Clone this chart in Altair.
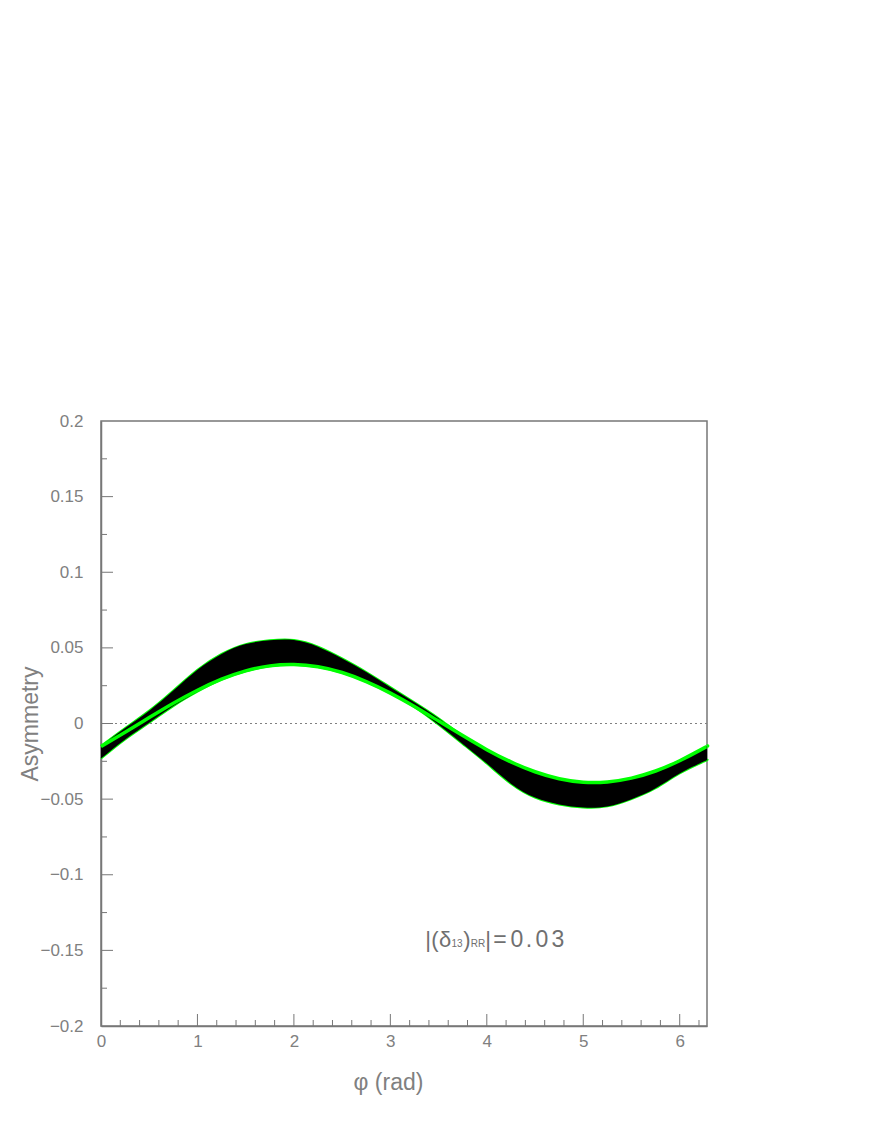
import altair as alt
import pandas as pd

# ---- data ----
phi = [0.0, 0.25, 0.5, 0.75, 1.0, 1.25, 1.5, 1.75, 2.0, 2.25, 2.5, 2.75, 3.0, 3.25, 3.5,
       3.75, 4.0, 4.25, 4.5, 4.75, 5.0, 5.25, 5.5, 5.75, 6.0, 6.25, 6.283]
upper = [-0.0148, -0.0030, 0.0085, 0.0218, 0.0355, 0.0460, 0.0525, 0.0550, 0.0552, 0.0508,
         0.0430, 0.0340, 0.0240, 0.0140, 0.0035,
         -0.0080, -0.0173, -0.0254, -0.0319, -0.0365, -0.0388, -0.0386, -0.0361, -0.0314,
         -0.0246, -0.0163, -0.0150]
lower = [-0.0232, -0.0105, 0.0005, 0.0115, 0.0210, 0.0290, 0.0345, 0.0378, 0.0388, 0.0373,
         0.0335, 0.0275, 0.0199, 0.0108, -0.0008,
         -0.0135, -0.0265, -0.0398, -0.0490, -0.0535, -0.0555, -0.0548, -0.0500, -0.0428,
         -0.0330, -0.0252, -0.0240]
green = [-0.0152, -0.0058, 0.0039, 0.0134, 0.0220, 0.0293, 0.0348, 0.0381, 0.0390, 0.0375,
         0.0337, 0.0277, 0.0201, 0.0112, 0.0016,
         -0.0080, -0.0173, -0.0254, -0.0319, -0.0365, -0.0388, -0.0386, -0.0361, -0.0314,
         -0.0246, -0.0163, -0.0150]

x_labels = [0, 1, 2, 3, 4, 5, 6]
x_minor = [0.2, 0.4, 0.6, 0.8, 1.2, 1.4, 1.6, 1.8, 2.2, 2.4, 2.6, 2.8, 3.2, 3.4, 3.6, 3.8,
           4.2, 4.4, 4.6, 4.8, 5.2, 5.4, 5.6, 5.8, 6.2]
y_labels = [-0.2, -0.15, -0.1, -0.05, 0.0, 0.05, 0.1, 0.15, 0.2]
y_minor = [-0.175, -0.125, -0.075, -0.025, 0.025, 0.075, 0.125, 0.175]

annotation = ["|", "(", "δ", "13", ")", "RR", "|", "=", "0", ".", "0", "3"]

# ---- chart ----
W, H = 606, 605
GRAY = "#808080"
FONT = "Liberation Sans"

band = pd.DataFrame({"phi": phi, "upper": upper, "lower": lower, "green": green})
xs = alt.Scale(domain=[0, 6.283], nice=False, zero=False)
ys = alt.Scale(domain=[-0.2, 0.2], nice=False, zero=False)

yaxis = alt.Axis(values=y_labels, format=".2~f", ticks=False, grid=False, labelFlush=False,
                 domainColor="#777", domainWidth=1.5,
                 labelColor=GRAY, labelFont=FONT, labelFontSize=17, labelPadding=18,
                 title="Asymmetry", titleColor=GRAY, titleFont=FONT,
                 titleFontSize=23, titleFontWeight="normal",
                 titleX=-71, titleY=H / 2, titleAngle=270,
                 titleBaseline="middle", titleAlign="center")
xaxis = alt.Axis(values=x_labels, format="d", ticks=False, grid=False, labelFlush=False,
                 domainColor="#777", domainWidth=1.5,
                 labelColor=GRAY, labelFont=FONT, labelFontSize=17, labelPadding=7,
                 title="φ (rad)", titleColor=GRAY, titleFont=FONT, titleFontSize=23,
                 titleFontWeight="normal", titleX=287, titleY=56,
                 titleBaseline="middle", titleAlign="center")

X = lambda f: alt.X(f, scale=xs, axis=xaxis)
Y = lambda f: alt.Y(f, scale=ys, axis=yaxis)

zero_line = alt.Chart(pd.DataFrame({"v": [0.0]})).mark_rule(
    color=GRAY, strokeDash=[2, 3], strokeWidth=1
).encode(y=Y("v:Q"))

base = alt.Chart(band)
outline_up = base.mark_line(color="#00ff00", strokeWidth=2, interpolate="natural").encode(
    x=X("phi:Q"), y=Y("upper:Q"))
outline_lo = base.mark_line(color="#00ff00", strokeWidth=2, interpolate="natural").encode(
    x=X("phi:Q"), y=Y("lower:Q"))
area = base.mark_area(color="#000000", opacity=1, interpolate="natural").encode(
    x=X("phi:Q"), y=Y("upper:Q"), y2="lower:Q")
green_line = base.mark_line(color="#00ff00", strokeWidth=3.5, interpolate="natural").encode(
    x=X("phi:Q"), y=Y("green:Q"))

def tick_layer(vals, chan, length):
    df = pd.DataFrame({"v": vals})
    if chan == "y":
        return alt.Chart(df).mark_rule(color="#777", strokeWidth=1).encode(
            y=Y("v:Q"), x=alt.value(0), x2=alt.value(length))
    return alt.Chart(df).mark_rule(color="#777", strokeWidth=1).encode(
        x=X("v:Q"), y=alt.value(H), y2=alt.value(H - length))

ticks = [
    tick_layer(y_labels[1:-1], "y", 12),
    tick_layer(y_minor, "y", 6),
    tick_layer(x_labels[1:], "x", 12),
    tick_layer(x_minor, "x", 6),
]

# annotation characters: (center x relative to plot origin, font size)
ann_pos = [(327, 22), (334, 22), (344, 22), (356, 10), (366, 22),
           (377, 10), (387, 22), (399, 23), (416, 23), (428, 23),
           (441, 23), (457, 23)]
ann_layers = []
for txt, (px, fs) in zip(annotation, ann_pos):
    ann_layers.append(
        alt.Chart(pd.DataFrame({"t": [txt]})).mark_text(
            font=FONT, fontSize=fs, color="#707070", align="center", baseline="alphabetic"
        ).encode(text="t:N", x=alt.value(px), y=alt.value(526))
    )

chart = alt.layer(zero_line, outline_up, outline_lo, area, green_line, *ticks, *ann_layers).properties(
    width=W, height=H,
    padding={"left": 93, "top": 413, "right": 150, "bottom": 90},
    autosize="none",
).configure_view(stroke="#777", strokeWidth=1.5)

chart.save("out.html", embed_options={"renderer": "svg", "actions": False})
